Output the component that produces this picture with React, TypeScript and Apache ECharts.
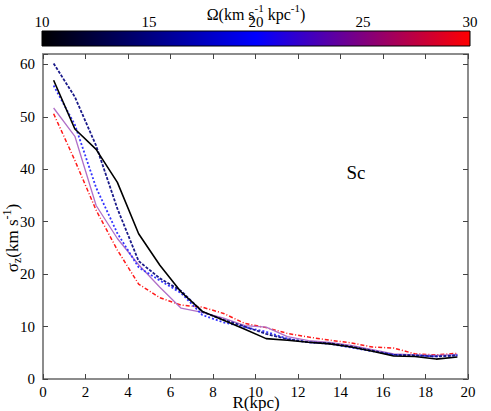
import React, { useEffect, useRef } from "react";
import * as echarts from "echarts";

const radii = [0.5, 1.5, 2.5, 3.5, 4.5, 5.5, 6.5, 7.5, 8.5, 9.5, 10.5, 11.5, 12.5, 13.5, 14.5, 15.5, 16.5, 17.5, 18.5, 19.5];
const sigmaBlack = [57, 47.7, 43.8, 37.5, 27.7, 21.7, 16.6, 12.9, 11.2, 9.5, 7.7, 7.4, 7.0, 6.7, 6.1, 5.3, 4.4, 4.3, 3.8, 4.2];
const sigmaNavy = [60.2, 53.8, 44.5, 32.5, 22.5, 19.2, 16.8, 12.8, 11.3, 10.0, 8.6, 7.6, 7.0, 6.8, 6.2, 5.4, 4.6, 4.5, 4.3, 4.5];
const sigmaBlue = [56, 48.5, 36.5, 27.8, 21.3, 18.8, 16.4, 12.2, 10.8, 9.9, 9.0, 7.7, 7.0, 6.7, 6.0, 5.3, 4.6, 4.5, 4.3, 4.5];
const sigmaPurple = [51.7, 46.3, 33.1, 26.8, 21.8, 17.5, 13.5, 12.7, 11.6, 10.2, 9.9, 8.1, 7.3, 7.0, 6.4, 5.6, 4.8, 4.6, 4.5, 4.7];
const sigmaRed = [50.6, 41.7, 32.2, 24.6, 18.1, 15.5, 14.1, 13.7, 12.5, 10.6, 9.8, 8.7, 8.0, 7.4, 6.9, 6.1, 5.9, 4.8, 4.6, 4.9];
const omegaTicks = [10, 15, 20, 25, 30];
const omegaMin = 10;
const omegaMax = 30;

const FONT = "Liberation Serif, Times New Roman, serif";

export default function App() {
  const ref = useRef<HTMLDivElement>(null);
  useEffect(() => {
    if (!ref.current) return;
    const chart = echarts.init(ref.current, undefined, { renderer: "svg" });
    const pts = (arr: number[]) => radii.map((r, i) => [r, arr[i]]);
    const axisLine = { show: true, onZero: false, lineStyle: { color: "#8c8c8c", width: 2 } };
    const axisTick = { show: true, inside: true, length: 5, lineStyle: { color: "#444", width: 1 } };

    const cbX0 = 42, cbX1 = 470, cbY = 31, cbH = 15;
    const cbPos = (v: number) => cbX0 + ((v - omegaMin) / (omegaMax - omegaMin)) * (cbX1 - cbX0);

    const txt = (size: number) => ({ fontFamily: FONT, fontSize: size, fill: "#000" });
    const plainText = (x: number, y: number, s: string, size: number) => ({
      type: "text",
      x,
      y,
      style: { text: s, ...txt(size), align: "center", verticalAlign: "middle" },
    });

    const graphics: any[] = [
      {
        type: "rect",
        shape: { x: cbX0, y: cbY, width: cbX1 - cbX0, height: cbH },
        style: {
          fill: new echarts.graphic.LinearGradient(0, 0, 1, 0, [
            { offset: 0, color: "#000000" },
            { offset: 0.5, color: "#0000ff" },
            { offset: 1, color: "#ff0000" },
          ]),
          stroke: "#000",
          lineWidth: 1,
        },
      },
      ...omegaTicks.map((v) => plainText(cbPos(v), 22, String(v), 15)),
      {
        type: "text",
        x: 256,
        y: 12,
        style: {
          text: "{a|Ω(km s}{s|-1}{a| kpc}{s|-1}{a|)}",
          align: "center",
          verticalAlign: "middle",
          rich: {
            a: { ...txt(16), lineHeight: 20, verticalAlign: "bottom" },
            s: { ...txt(11), lineHeight: 20, verticalAlign: "top" },
          },
        },
      },
      {
        type: "text",
        x: 12,
        y: 238,
        rotation: Math.PI / 2,
        style: {
          text: "{a|σ}{z|z}{a|(km s}{s|-1}{a|)}",
          align: "center",
          verticalAlign: "middle",
          rich: {
            a: { ...txt(17), lineHeight: 22, verticalAlign: "middle" },
            z: { ...txt(12), lineHeight: 22, verticalAlign: "bottom" },
            s: { ...txt(12), lineHeight: 22, verticalAlign: "top" },
          },
        },
      },
      plainText(256, 402, "R(kpc)", 17),
      plainText(356, 172, "Sc", 19),
    ];

    chart.setOption({
      animation: false,
      backgroundColor: "#fff",
      textStyle: { fontFamily: FONT },
      grid: { left: 43, right: 23, top: 54, bottom: 32, containLabel: false },
      xAxis: [
        {
          type: "value", min: 0, max: 20, interval: 2, position: "bottom",
          axisLine, axisTick, splitLine: { show: false },
          axisLabel: { fontFamily: FONT, fontSize: 15, color: "#000", margin: 5 },
        },
        {
          type: "value", min: 0, max: 20, interval: 2, position: "top",
          axisLine, axisTick, splitLine: { show: false }, axisLabel: { show: false },
        },
      ],
      yAxis: [
        {
          type: "value", min: 0, max: 62, interval: 10, position: "left",
          axisLine, axisTick, splitLine: { show: false },
          axisLabel: {
            fontFamily: FONT, fontSize: 15, color: "#000", margin: 8,
            formatter: (v: number) => (v % 10 === 0 ? String(v) : ""),
          },
        },
        {
          type: "value", min: 0, max: 62, interval: 10, position: "right",
          axisLine, axisTick, splitLine: { show: false }, axisLabel: { show: false },
        },
      ],
      series: [
        { type: "line", data: pts(sigmaRed), showSymbol: false, symbol: "none", lineStyle: { color: "#ff1a1a", width: 1.5, type: [4, 2, 1, 2] } },
        { type: "line", data: pts(sigmaPurple), showSymbol: false, symbol: "none", lineStyle: { color: "#b070c8", width: 1.3, type: "solid" } },
        { type: "line", data: pts(sigmaBlue), showSymbol: false, symbol: "none", lineStyle: { color: "#3333ff", width: 1.8, type: [2, 2] } },
        { type: "line", data: pts(sigmaNavy), showSymbol: false, symbol: "none", lineStyle: { color: "#1a1a8a", width: 1.8, type: [3, 1.5] } },
        { type: "line", data: pts(sigmaBlack), showSymbol: false, symbol: "none", lineStyle: { color: "#000000", width: 1.6, type: "solid" } },
      ],
      graphic: graphics,
    });
    return () => chart.dispose();
  }, []);
  return <div ref={ref} style={{ width: 491, height: 411, position: "absolute", left: 0, top: 0 }} />;
}
